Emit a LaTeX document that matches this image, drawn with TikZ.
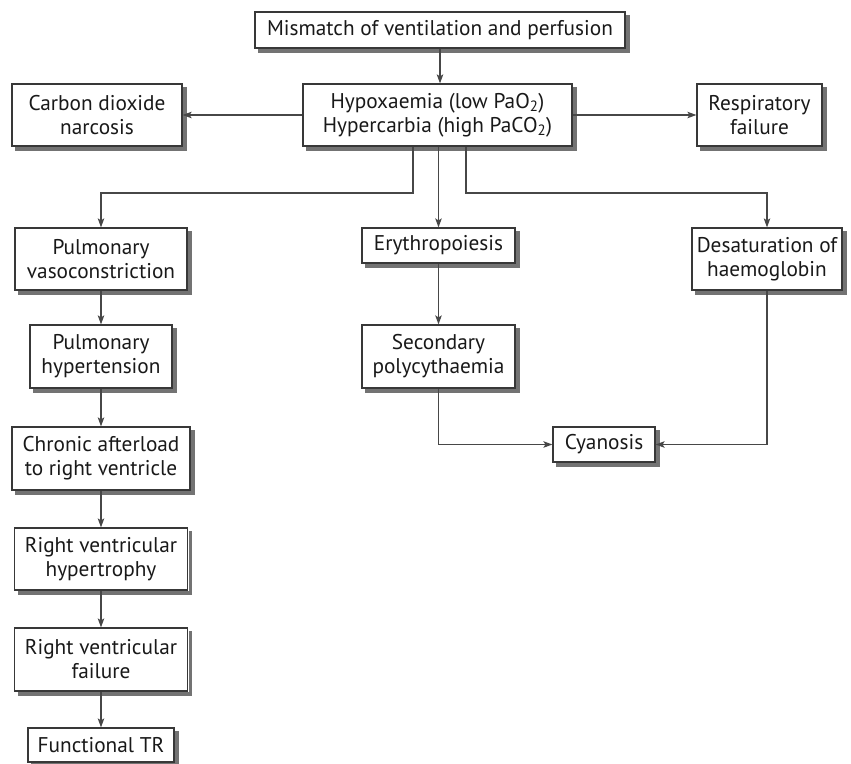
\documentclass[tikz,border=0pt]{standalone}
\usepackage{fontspec}
\setmainfont{PT Sans}
\usetikzlibrary{arrows.meta}
\begin{document}
\begin{tikzpicture}[x=1pt,y=-1pt,
  box/.style={draw=black!78, line width=1.2pt, fill=white, align=center,
    inner sep=0pt, font=\fontsize{21.3}{24}\selectfont, text=black!90},
  boxshadow/.style={fill=black!55},
  conn/.style={draw=black!72, line width=1.2pt, -{Stealth[length=9pt,width=6.5pt,inset=2pt]}}]
\useasboundingbox (0,0) rectangle (851,763);

% boxes
\node[box, minimum width=370pt, minimum height=36pt] (mis) at (440,30) {Mismatch of ventilation and perfusion};
\node[box, minimum width=269pt, minimum height=62pt] (hyp) at (437.5,115) {Hypoxaemia (low PaO\textsubscript{2})\\Hypercarbia (high PaCO\textsubscript{2})};
\node[box, minimum width=170pt, minimum height=62pt] (co2) at (97,115) {Carbon dioxide\\narcosis};
\node[box, minimum width=125pt, minimum height=62pt] (resp) at (759.5,115) {Respiratory\\failure};
\node[box, minimum width=172pt, minimum height=62pt] (pv) at (101,259) {Pulmonary\\vasoconstriction};
\node[box, minimum width=153pt, minimum height=35pt] (ery) at (438.5,245.5) {Erythropoiesis};
\node[box, minimum width=150pt, minimum height=62pt] (des) at (767,259) {Desaturation of\\haemoglobin};
\node[box, minimum width=142pt, minimum height=63pt] (ph) at (101,356.5) {Pulmonary\\hypertension};
\node[box, minimum width=153pt, minimum height=63pt] (sp) at (438.5,356.5) {Secondary\\polycythaemia};
\node[box, minimum width=102pt, minimum height=35pt] (cya) at (604,444.5) {Cyanosis};
\node[box, minimum width=178pt, minimum height=63pt] (ca) at (101,458.5) {Chronic afterload\\to right ventricle};
\node[box, minimum width=173pt, minimum height=62pt] (rvh) at (101,559) {Right ventricular\\hypertrophy};
\node[box, minimum width=173pt, minimum height=63pt] (rvf) at (101,659.5) {Right ventricular\\failure};
\node[box, minimum width=146pt, minimum height=34pt] (tr) at (101,745) {Functional TR};

% drop shadows: an L-shaped strip along the right and lower edge of each box
\foreach \n in {mis,hyp,co2,resp,pv,ery,des,ph,sp,cya,ca,rvh,rvf,tr}{
  \fill[boxshadow] ([xshift=0.6pt,yshift=-4pt]\n.north east) rectangle ([xshift=4pt,yshift=-4pt]\n.south east);
  \fill[boxshadow] ([xshift=4pt,yshift=-0.6pt]\n.south west) rectangle ([xshift=4pt,yshift=-4pt]\n.south east);
}

% connectors
\coordinate (bl) at (413,193);
\coordinate (br) at (466,193);
\draw[conn] (mis.south -| 440,0) -- (hyp.north -| 440,0);
\draw[conn] (hyp.west) -- (co2.east);
\draw[conn] (hyp.east) -- (resp.west);
\draw[conn] (hyp.south -| bl) -- (bl) -| (pv.north);
\draw[conn] (hyp.south -| ery.north) -- (ery.north);
\draw[conn] (hyp.south -| br) -- (br) -| (des.north);
\draw[conn] (pv) -- (ph);
\draw[conn] (ph) -- (ca);
\draw[conn] (ca) -- (rvh);
\draw[conn] (rvh) -- (rvf);
\draw[conn] (rvf) -- (tr);
\draw[conn] (ery) -- (sp);
\draw[conn] (sp.south) |- (cya.west);
\draw[conn] (des.south) |- (cya.east);
\end{tikzpicture}
\end{document}
